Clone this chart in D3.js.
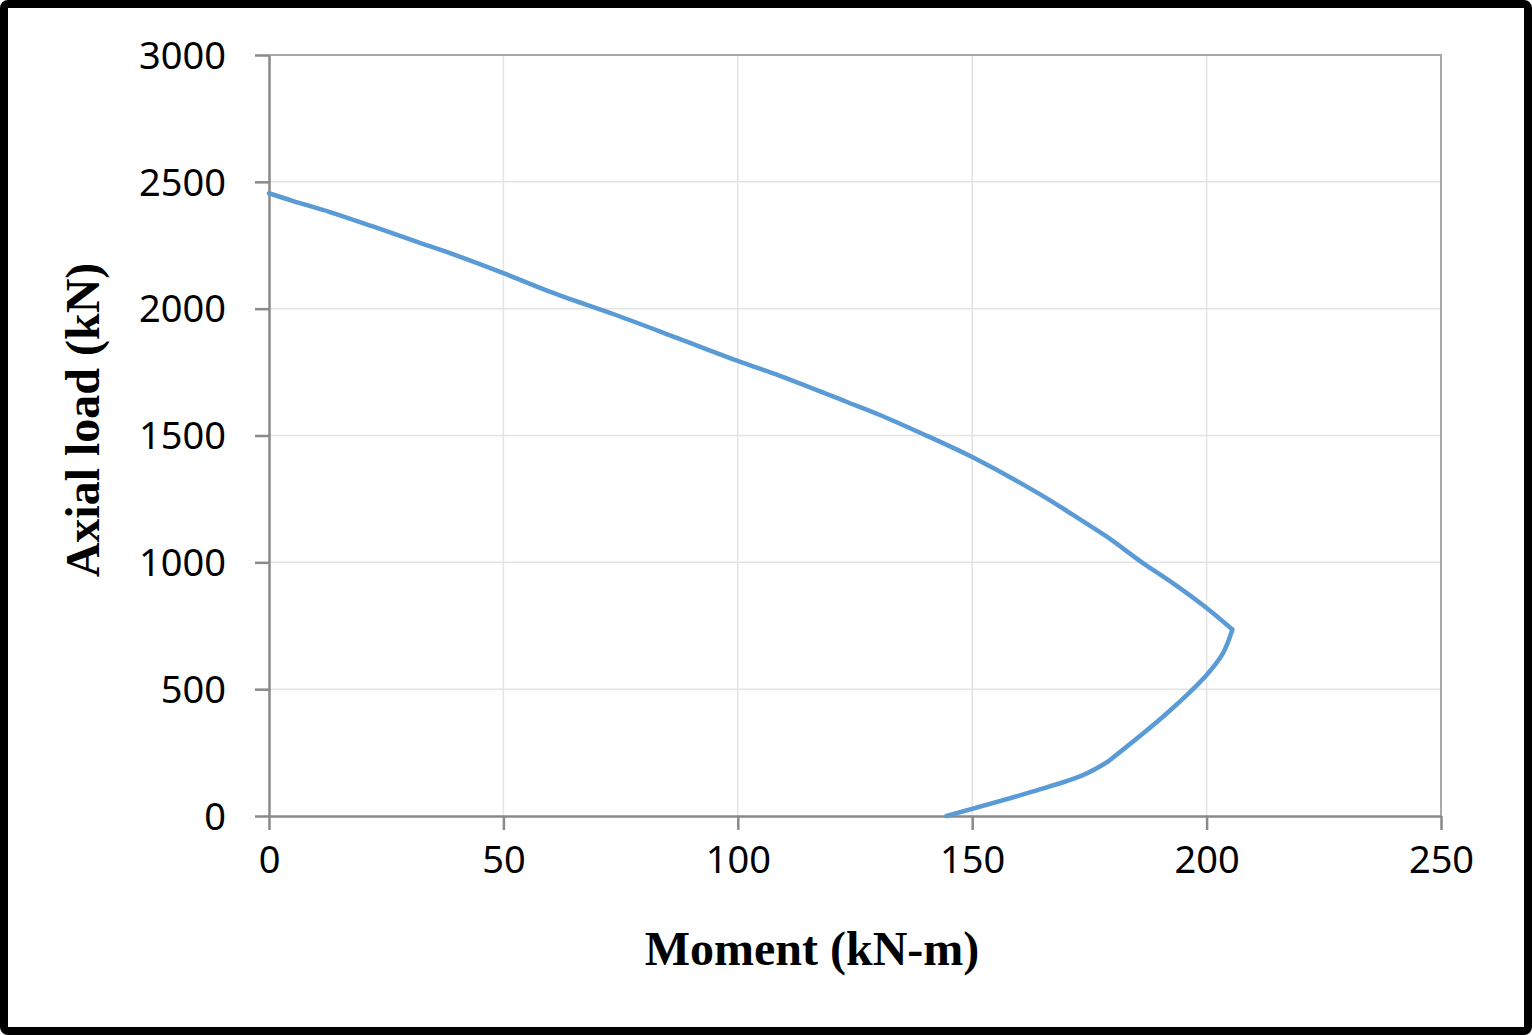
<!DOCTYPE html>
<html>
<head>
<meta charset="utf-8">
<script src="https://cdn.jsdelivr.net/npm/d3@7"></script>
<style>
  html, body { margin: 0; padding: 0; background: #fff; }
  svg { display: block; }
</style>
</head>
<body>
<div id="chart"></div>
<script>
// Data
const moment = [0, 5, 13, 22, 31.6, 38.6, 50, 60, 74, 87, 100, 109, 123.3, 130.3, 139, 150,
  164.4, 171.5, 178.8, 186.2, 192.8, 200, 205.5, 203.5, 200, 191.6, 179, 173.6, 163, 144.5]
const axial = [2455, 2425, 2381, 2325, 2263, 2219, 2140, 2066, 1975, 1885, 1794, 1735, 1632, 1581, 1510, 1415,
  1269, 1187, 1100, 1000, 918, 820, 735, 642, 556, 406, 215, 161, 97, 0]
// indices where the curve has a sharp corner
const corners = [22, 26]
const xTicks = [0, 50, 100, 150, 200, 250]
const yTicks = [0, 500, 1000, 1500, 2000, 2500, 3000]

// Initialization
const width = 1532
const height = 1035
const plot = { left: 269, right: 1441, top: 55, bottom: 816 }
const tickFont = '"Noto Sans", "Open Sans", sans-serif'
const titleFont = '"Liberation Serif", "Times New Roman", serif'

const svg = d3.select('#chart').append('svg')
  .attr('width', width)
  .attr('height', height)

// Outer frame
svg.append('rect')
  .attr('x', 4).attr('y', 4)
  .attr('width', width - 8).attr('height', height - 8)
  .attr('rx', 4)
  .attr('fill', '#fff')
  .attr('stroke', '#000')
  .attr('stroke-width', 8)

const x = d3.scaleLinear().domain([0, 250]).range([plot.left, plot.right])
const y = d3.scaleLinear().domain([0, 3000]).range([plot.bottom, plot.top])

// Grid lines
svg.append('g')
  .selectAll('line')
  .data(yTicks.slice(1, -1))
  .enter()
  .append('line')
  .attr('x1', plot.left).attr('x2', plot.right)
  .attr('y1', d => y(d)).attr('y2', d => y(d))
  .attr('stroke', '#e4e4e4')
  .attr('stroke-width', 1.5)

svg.append('g')
  .selectAll('line')
  .data(xTicks.slice(1, -1))
  .enter()
  .append('line')
  .attr('x1', d => x(d)).attr('x2', d => x(d))
  .attr('y1', plot.top).attr('y2', plot.bottom)
  .attr('stroke', '#e4e4e4')
  .attr('stroke-width', 1.5)

// Plot border top and right
svg.append('path')
  .attr('d', `M${plot.left},${plot.top}H${plot.right}V${plot.bottom}`)
  .attr('fill', 'none')
  .attr('stroke', '#a8a8a8')
  .attr('stroke-width', 2)

// Axes
const xAxis = svg.append('g')
  .attr('transform', `translate(0,${plot.bottom})`)
  .call(d3.axisBottom(x).tickValues(xTicks).tickFormat(d3.format('d'))
    .tickSize(14).tickPadding(16).tickSizeOuter(0))
const yAxis = svg.append('g')
  .attr('transform', `translate(${plot.left},0)`)
  .call(d3.axisLeft(y).tickValues(yTicks).tickFormat(d3.format('d'))
    .tickSize(14).tickPadding(29).tickSizeOuter(0))

;[xAxis, yAxis].forEach(axis => {
  axis.select('.domain').attr('stroke', '#898989').attr('stroke-width', 2.5)
  axis.selectAll('.tick line').attr('stroke', '#898989').attr('stroke-width', 2.5)
  axis.selectAll('.tick text')
    .attr('fill', '#000')
    .style('font-family', tickFont)
    .style('font-size', '38px')
})
yAxis.selectAll('.tick text').attr('dy', '0.35em')

// Curve, smoothed between the sharp corners
const points = moment.map((m, i) => [m, axial[i]])
const bounds = [0, ...corners, points.length - 1]
const line = d3.line()
  .x(d => x(d[0]))
  .y(d => y(d[1]))
  .curve(d3.curveCatmullRom.alpha(0.5))

const pathD = d3.pairs(bounds)
  .map(([a, b]) => line(points.slice(a, b + 1)))
  .join('')

svg.append('path')
  .attr('fill', 'none')
  .attr('stroke', '#5b9bd5')
  .attr('stroke-width', 4.5)
  .attr('stroke-linejoin', 'round')
  .attr('stroke-linecap', 'round')
  .attr('d', pathD)

// Axis titles
svg.append('text')
  .text('Moment (kN-m)')
  .attr('x', 812)
  .attr('y', 965)
  .attr('text-anchor', 'middle')
  .style('font-family', titleFont)
  .style('font-weight', 'bold')
  .style('font-size', '48px')

svg.append('text')
  .text('Axial load (kN)')
  .attr('transform', 'translate(99,420) rotate(-90)')
  .attr('text-anchor', 'middle')
  .style('font-family', titleFont)
  .style('font-weight', 'bold')
  .style('font-size', '48px')
</script>
</body>
</html>
